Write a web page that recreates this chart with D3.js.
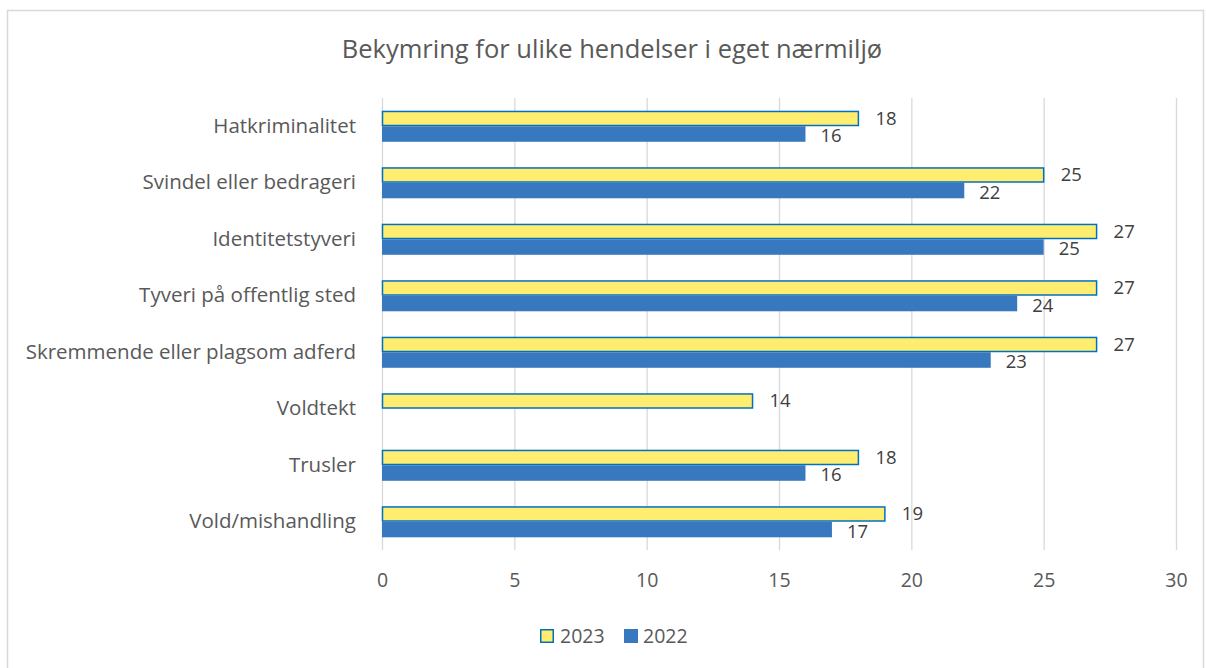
<!DOCTYPE html>
<html>
<head>
<meta charset="utf-8">
<script src="https://cdn.jsdelivr.net/npm/d3@7"></script>
<style>
  body { margin: 0; background: #fff; }
  text { font-family: "Open Sans", sans-serif; }
</style>
</head>
<body>
<div id="chart"></div>
<script>
const categories = [
  "Hatkriminalitet",
  "Svindel eller bedrageri",
  "Identitetstyveri",
  "Tyveri på offentlig sted",
  "Skremmende eller plagsom adferd",
  "Voldtekt",
  "Trusler",
  "Vold/mishandling"
];
const values2023 = [18, 25, 27, 27, 27, 14, 18, 19];
const values2022 = [16, 22, 25, 24, 23, null, 16, 17];
const xTicks = [0, 5, 10, 15, 20, 25, 30];
const seriesNames = ["2023", "2022"];

const W = 1206, H = 668;
const margin = {top: 98, left: 382};
const width = 1176 - 382, height = 550 - 98;

const svg = d3.select("#chart").append("svg")
  .attr("width", W).attr("height", H);

// outer frame
svg.append("rect")
  .attr("x", 7.5).attr("y", 10.5)
  .attr("width", 1196).attr("height", 660)
  .attr("fill", "#fff").attr("stroke", "#d9d9d9").attr("stroke-width", 1.5);

svg.append("text")
  .attr("x", 612).attr("y", 58)
  .attr("text-anchor", "middle")
  .attr("font-size", 25.5)
  .attr("fill", "#595959")
  .text("Bekymring for ulike hendelser i eget nærmiljø");

const g = svg.append("g").attr("transform", `translate(${margin.left},${margin.top})`);

const x = d3.scaleLinear().domain([0, 30]).range([0, width]);
const y = d3.scaleBand().domain(categories).range([0, height]).paddingInner(0.45).paddingOuter(0.225);

// gridlines + x axis
const xAxis = g.append("g")
  .attr("transform", `translate(0,${height})`)
  .call(d3.axisBottom(x).tickValues(xTicks).tickSize(-height).tickPadding(23));
xAxis.select(".domain").remove();
xAxis.selectAll(".tick line").attr("stroke", "#d9d9d9").attr("stroke-width", 1.3);
xAxis.selectAll(".tick text").attr("fill", "#595959").attr("font-size", 19.5)
  .attr("font-family", "Open Sans, sans-serif");

// y axis labels
const yAxis = g.append("g")
  .call(d3.axisLeft(y).tickSize(0).tickPadding(26));
yAxis.select(".domain").remove();
yAxis.selectAll(".tick text").attr("fill", "#595959").attr("font-size", 20.5)
  .attr("font-family", "Open Sans, sans-serif");

const bh = y.bandwidth() / 2;

// 2023 bars
g.selectAll(".b23").data(categories).enter().append("rect")
  .attr("x", 0.5)
  .attr("y", (d) => y(d) + 0.75)
  .attr("width", (d, i) => x(values2023[i]) - 0.5)
  .attr("height", bh - 1.5)
  .attr("fill", "#FFED6F")
  .attr("stroke", "#0070C0")
  .attr("stroke-width", 1.5);

// 2022 bars
g.selectAll(".b22").data(categories.filter((d, i) => values2022[i] != null)).enter().append("rect")
  .attr("x", 0)
  .attr("y", (d) => y(d) + bh)
  .attr("width", (d) => x(values2022[categories.indexOf(d)]))
  .attr("height", bh)
  .attr("fill", "#3778BE");

// labels
g.selectAll(".l23").data(categories).enter().append("text")
  .attr("x", (d, i) => x(values2023[i]) + 17)
  .attr("y", (d) => y(d) + bh / 2)
  .attr("dy", "0.35em")
  .attr("font-size", 18.5)
  .attr("fill", "#404040")
  .text((d, i) => values2023[i]);

g.selectAll(".l22").data(categories.filter((d, i) => values2022[i] != null)).enter().append("text")
  .attr("x", (d) => x(values2022[categories.indexOf(d)]) + 15)
  .attr("y", (d) => y(d) + bh * 1.5 + 2)
  .attr("dy", "0.35em")
  .attr("font-size", 18.5)
  .attr("fill", "#404040")
  .text((d) => values2022[categories.indexOf(d)]);

// legend
const legend = svg.append("g").attr("transform", "translate(540,629)");
legend.append("rect").attr("x", 0.75).attr("y", 0.75).attr("width", 12.5).attr("height", 12.5)
  .attr("fill", "#FFED6F").attr("stroke", "#0070C0").attr("stroke-width", 1.5);
legend.append("text").attr("x", 20).attr("y", 7).attr("dy", "0.35em")
  .attr("font-size", 19.5).attr("fill", "#595959").text(seriesNames[0]);
legend.append("rect").attr("x", 84).attr("y", 0).attr("width", 14).attr("height", 14)
  .attr("fill", "#3778BE");
legend.append("text").attr("x", 103).attr("y", 7).attr("dy", "0.35em")
  .attr("font-size", 19.5).attr("fill", "#595959").text(seriesNames[1]);
</script>
</body>
</html>
